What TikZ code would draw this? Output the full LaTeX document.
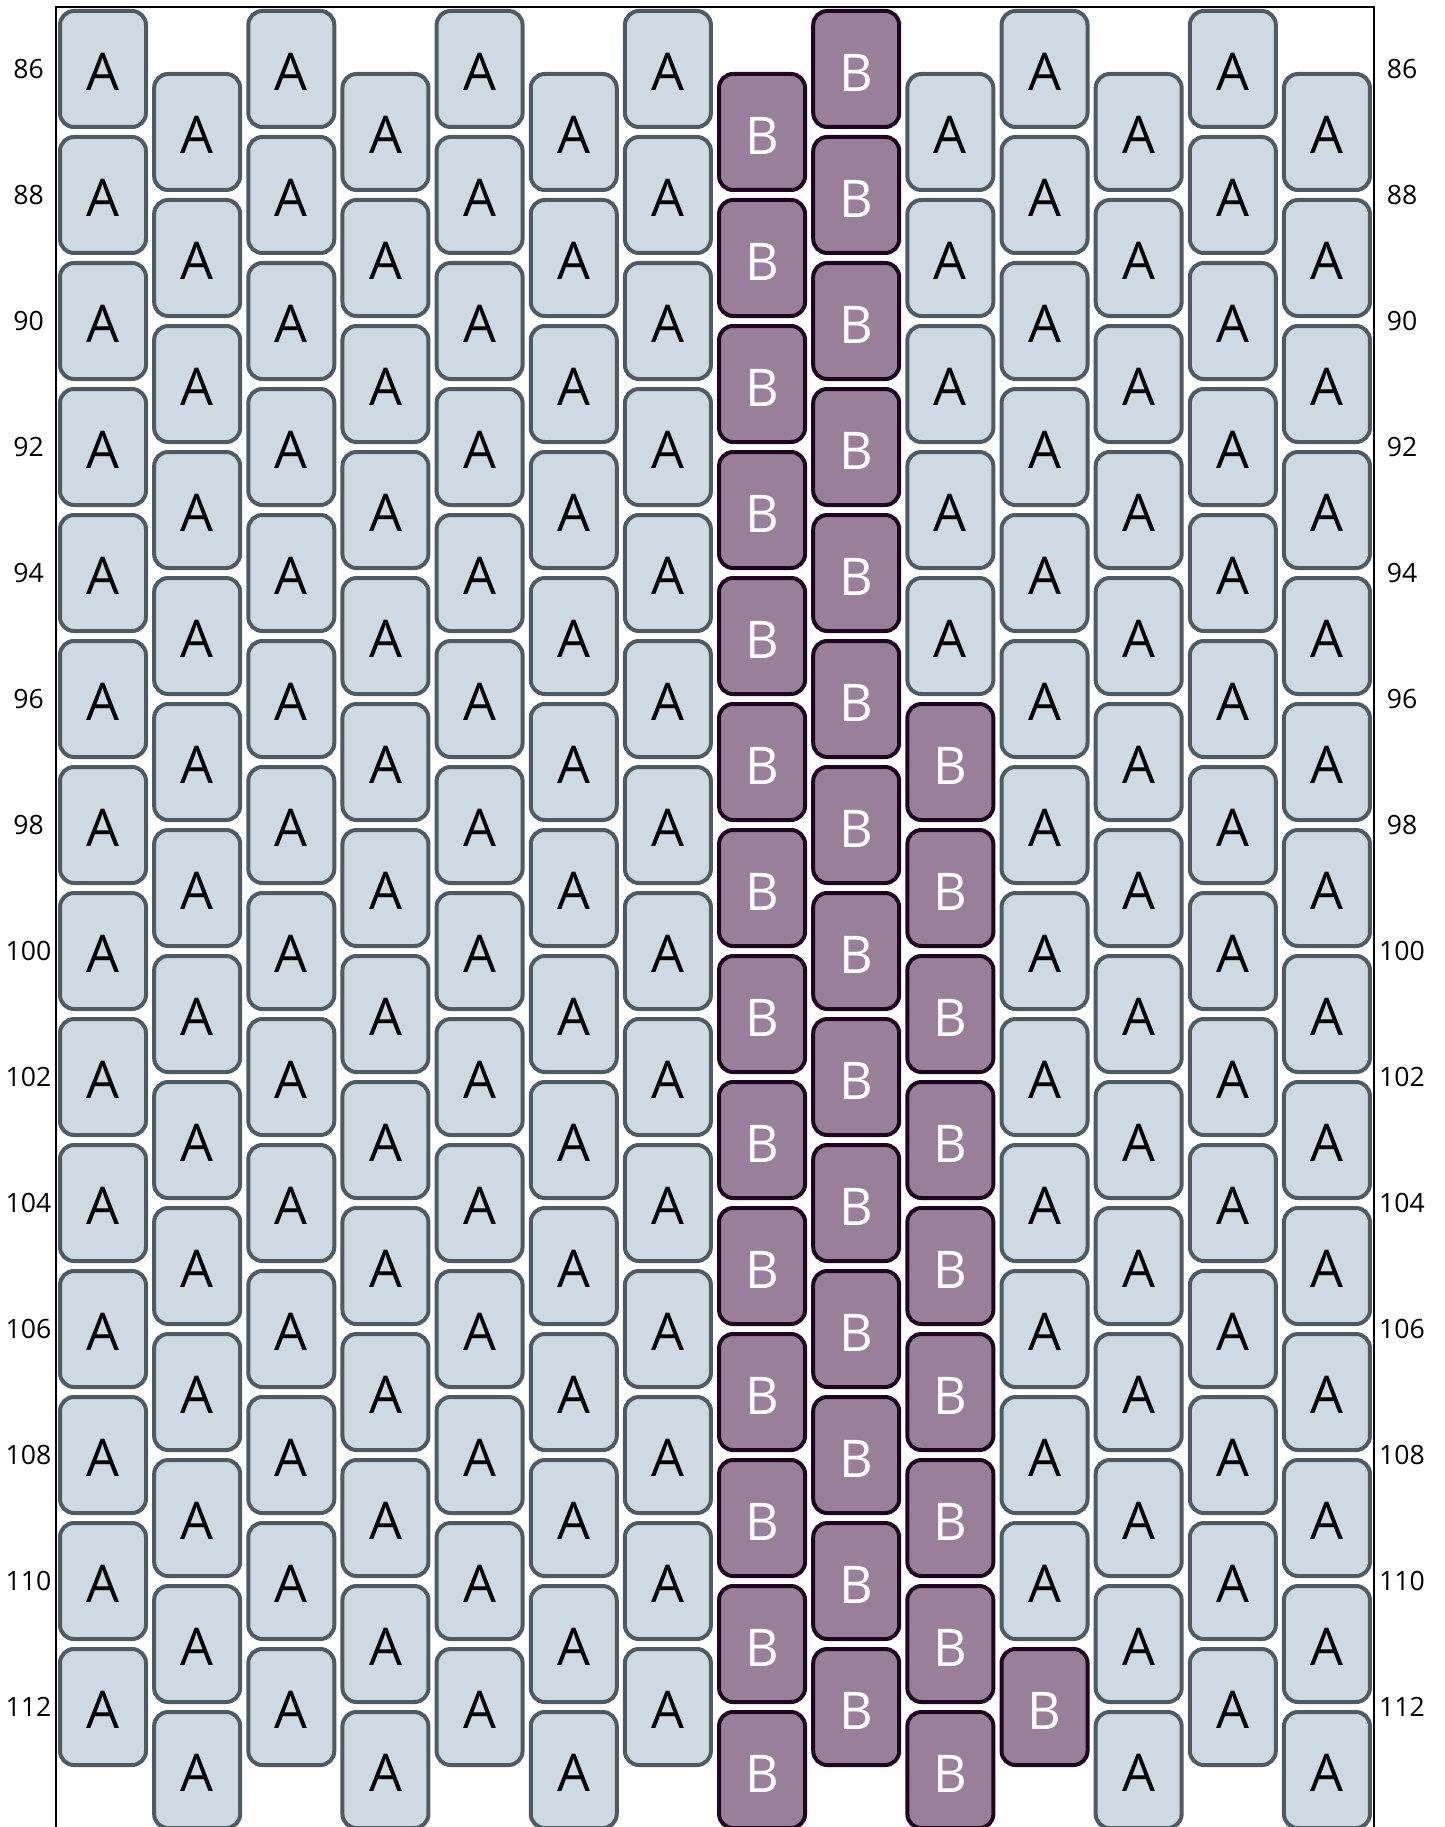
\documentclass[tikz,border=0pt]{standalone}
\usepackage{fontspec}
\setmainfont{Open Sans}
\definecolor{afill}{HTML}{CDD9E3}
\definecolor{adraw}{HTML}{4F5B63}
\definecolor{bfill}{HTML}{9A7F9A}
\definecolor{bdraw}{HTML}{1F0520}
\begin{document}
\begin{tikzpicture}[x=1pt,y=-1pt,
  beadbase/.style={rounded corners=14pt, line width=4pt, minimum width=86pt, minimum height=116pt, inner sep=0pt, text depth=0pt, font=\fontsize{52}{52}\selectfont},
  beadA/.style={beadbase, draw=adraw, fill=afill, text=black, text height=43pt},
  beadB/.style={beadbase, draw=bdraw, fill=bfill, text=white, text height=45pt},
  lbl/.style={font=\fontsize{26.6}{27}\selectfont, inner sep=0pt},
  frameline/.style={line width=2.5pt, black}]
\useasboundingbox (0,0) rectangle (1444,1827);
\clip (0,0) rectangle (1444,1827);
\coordinate (fbl) at (56,1840);
\coordinate (ftl) at (56,7);
\coordinate (ftr) at (1374,7);
\coordinate (fbr) at (1374,1840);
\draw[frameline] (fbl) -- (ftl) -- (ftr) -- (fbr);
\foreach \c in {1,...,14}{
  \foreach \k in {0,...,13}{
    \pgfmathsetmacro\x{103+(\c-1)*94.15}
    \pgfmathtruncatemacro\odd{mod(\c,2)==0}
    \pgfmathsetmacro\y{69+\k*126+\odd*63}
    \pgfmathtruncatemacro\r{86+2*\k+\odd}
    \pgfmathtruncatemacro\isB{(\c==8)||(\c==9)||((\c==10)&&(\r>96))||((\c==11)&&(\r==112))}
    \ifnum\isB=1
      \node[beadB] (b-\c-\r) at (\x,\y) {B};
    \else
      \node[beadA] (b-\c-\r) at (\x,\y) {A};
    \fi
  }
}
\foreach \k in {0,...,13}{
  \pgfmathsetmacro\y{69+\k*126}
  \pgfmathtruncatemacro\r{86+2*\k}
  \node[lbl] (L\r) at (28.5,\y) {\r};
  \node[lbl] (R\r) at (1402,\y) {\r};
}
\end{tikzpicture}
\end{document}
